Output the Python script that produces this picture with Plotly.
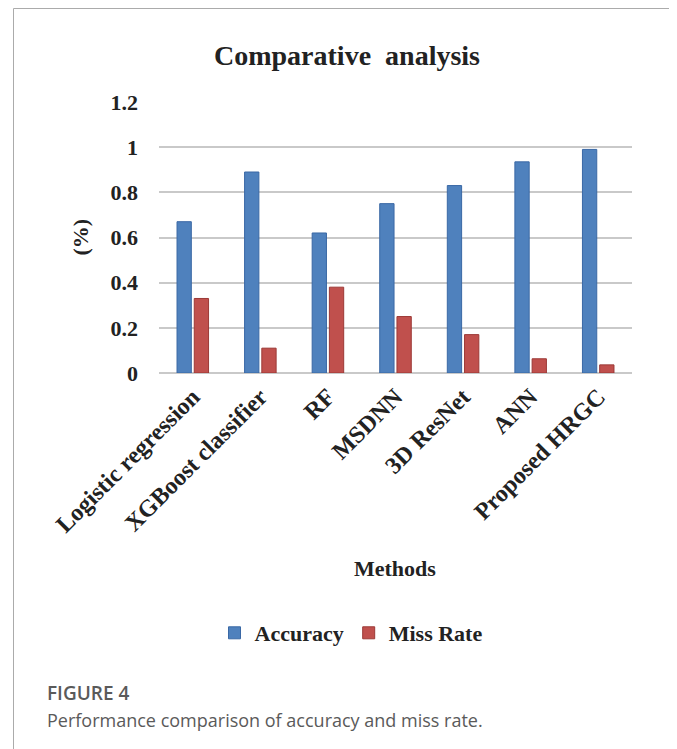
import plotly.graph_objects as go

methods = ["Logistic regression", "XGBoost classifier", "RF", "MSDNN",
           "3D ResNet", "ANN", "Proposed HRGC"]
accuracy = [0.67, 0.89, 0.62, 0.75, 0.83, 0.935, 0.99]
miss_rate = [0.33, 0.11, 0.38, 0.25, 0.17, 0.063, 0.036]
y_ticks = [0, 0.2, 0.4, 0.6, 0.8, 1.0, 1.2]
y_tick_text = ["0", "0.2", "0.4", "0.6", "0.8", "1", "1.2"]

SERIF = "Liberation Serif, Times New Roman, serif"
SANS = "Open Sans, Noto Sans, sans-serif"
TXT = "#222222"

# The page body has an 8px margin; work in page pixels and convert.
OFF = 8
W, H = 677 - OFF, 749 - OFF
PL, PR, PT, PB = 159, 632, 102, 373          # plot area in page pixels
L, R, T, B = PL - OFF, W - (PR - OFF), PT - OFF, H - (PB - OFF)
PW, PH = W - L - R, H - T - B


def px(x):
    return (x - PL) / PW


def py(y):
    return (PB - y) / PH


fig = go.Figure()
fig.add_trace(go.Bar(
    name="Accuracy", x=methods, y=accuracy,
    marker=dict(color="#4F81BD", line=dict(color="#3A68A5", width=1)),
))
fig.add_trace(go.Bar(
    name="Miss Rate", x=methods, y=miss_rate,
    marker=dict(color="#C0504D", line=dict(color="#9C3936", width=1)),
))

fig.update_layout(
    width=W, height=H,
    margin=dict(l=L, r=R, t=T, b=B, pad=0),
    paper_bgcolor="white", plot_bgcolor="white",
    barmode="group", bargap=0.49, bargroupgap=0.17,
    title=dict(text="Comparative  analysis", x=(347 - OFF) / W, xref="container", xanchor="center",
               y=1 - (55 - OFF) / H, yref="container", yanchor="middle",
               font=dict(family=SERIF, size=28, color=TXT, weight="bold")),
    showlegend=True,
    legend=dict(orientation="h", x=px(351), xanchor="center", y=py(633), yanchor="middle",
                font=dict(family=SERIF, size=22, color=TXT, weight="bold"),
                bgcolor="rgba(0,0,0,0)", itemwidth=30),
    xaxis=dict(tickangle=-45, showgrid=False, showline=False, zeroline=False,
               ticks="", ticklabelstandoff=4,
               tickfont=dict(family=SERIF, size=24, color=TXT, weight="bold"),
               fixedrange=True),
    yaxis=dict(range=[0, 1.2], tickvals=y_ticks, ticktext=y_tick_text,
               showgrid=True, gridcolor="#C9C9C9", gridwidth=1.5,
               zeroline=True, zerolinecolor="#C9C9C9", zerolinewidth=1.5,
               showline=False, ticks="", ticklabelstandoff=20,
               tickfont=dict(family=SERIF, size=22, color=TXT, weight="bold"),
               fixedrange=True),
)

# y-axis title
fig.add_annotation(text="(%)", xref="paper", yref="paper", x=px(80), y=0.5,
                   textangle=-90, showarrow=False, xanchor="center", yanchor="middle",
                   font=dict(family=SERIF, size=22, color=TXT, weight="bold"))
# x-axis title
fig.add_annotation(text="Methods", xref="paper", yref="paper", x=px(395), y=py(568),
                   showarrow=False, xanchor="center", yanchor="middle",
                   font=dict(family=SERIF, size=22, color=TXT, weight="bold"))
# caption
fig.add_annotation(text="FIGURE 4", xref="paper", yref="paper", x=px(45), y=py(693),
                   showarrow=False, xanchor="left", yanchor="middle",
                   font=dict(family=SANS, size=19, color="#5a5a5a", weight=600))
fig.add_annotation(text="Performance comparison of accuracy and miss rate.",
                   xref="paper", yref="paper", x=px(45), y=py(720),
                   showarrow=False, xanchor="left", yanchor="middle",
                   font=dict(family=SANS, size=18, color="#5a5a5a"))

# outer frame (left, top, right)
frame = dict(color="#ABABAB", width=1)
x_l, x_r, y_t, y_b = px(13.5), px(671.5), py(8.5), py(770)
fig.add_shape(type="line", xref="paper", yref="paper", x0=x_l, x1=x_l, y0=y_b, y1=y_t, line=frame)
fig.add_shape(type="line", xref="paper", yref="paper", x0=x_l, x1=x_r, y0=y_t, y1=y_t, line=frame)
fig.add_shape(type="line", xref="paper", yref="paper", x0=x_r, x1=x_r, y0=y_b, y1=y_t, line=frame)

fig.write_html("out.html")
